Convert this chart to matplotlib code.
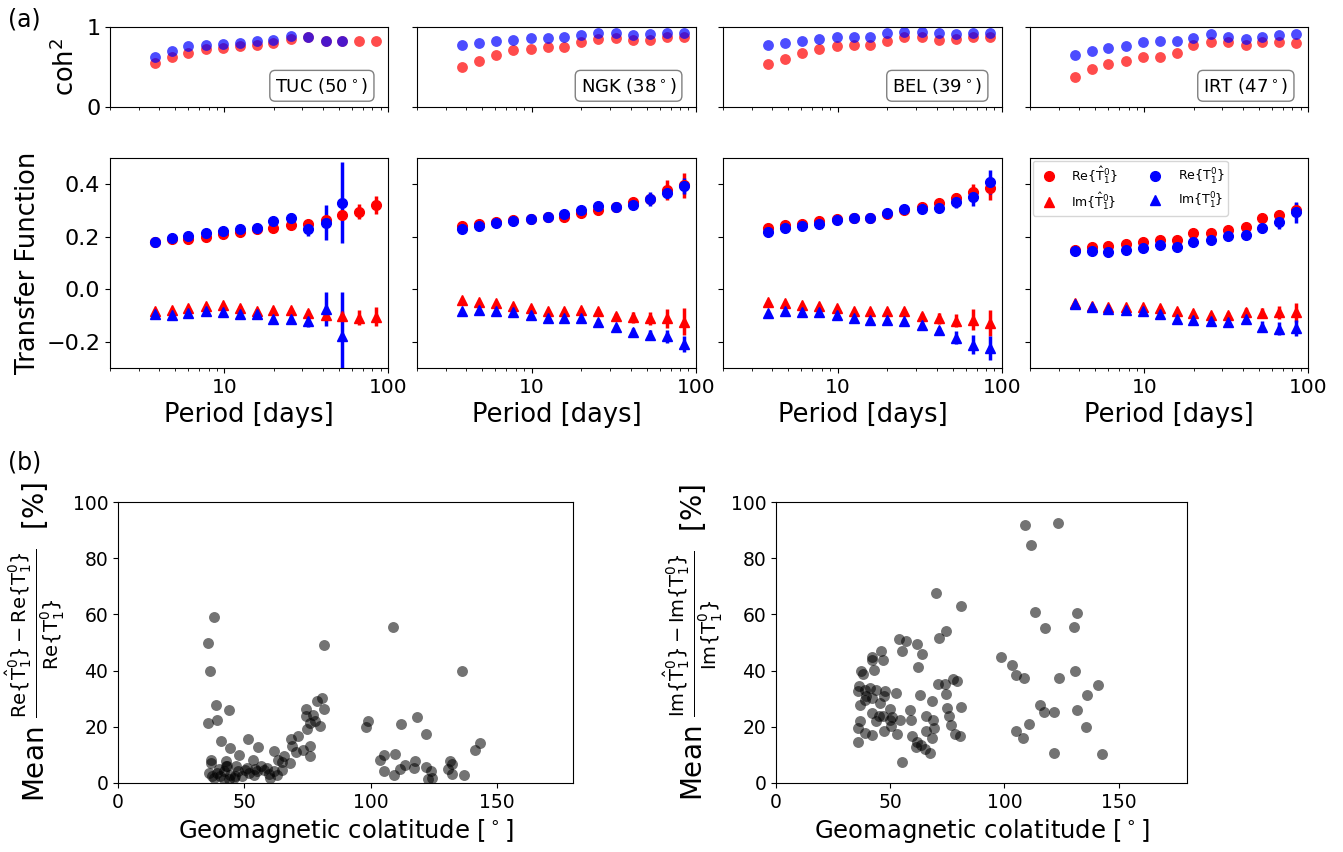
import matplotlib
matplotlib.use('Agg')
import matplotlib.pyplot as plt
import numpy as np

# periods [days] of the 15 frequency bins
periods = [3.78, 4.78, 6.03, 7.73, 9.86, 12.5, 15.8, 19.9, 25.4, 32.5, 41.5, 52.7, 66.5, 84.1, 106.7]

stations = ['TUC', 'NGK', 'BEL', 'IRT']
colats = [50, 38, 39, 47]

# ---- TUC
tuc_coh_hat = [0.55, 0.62, 0.68, 0.72, 0.74, 0.76, 0.78, 0.80, 0.85, 0.88, 0.82, 0.82, 0.82, 0.82, 0.82]
tuc_coh = [0.63, 0.70, 0.76, 0.78, 0.79, 0.80, 0.82, 0.84, 0.89, 0.88, 0.82, 0.82]
tuc_re_hat = [0.181, 0.19, 0.192, 0.20, 0.209, 0.219, 0.23, 0.232, 0.243, 0.247, 0.262, 0.281, 0.296, 0.321, 0.33]
tuc_re_hat_err = [0.004, 0.004, 0.005, 0.005, 0.005, 0.006, 0.006, 0.007, 0.008, 0.01, 0.012, 0.015, 0.028, 0.035, 0.04]
tuc_im_hat = [-0.082, -0.078, -0.073, -0.063, -0.061, -0.07, -0.082, -0.078, -0.078, -0.089, -0.099, -0.101, -0.108, -0.105, -0.105]
tuc_im_hat_err = [0.004, 0.004, 0.005, 0.005, 0.005, 0.006, 0.006, 0.007, 0.008, 0.01, 0.012, 0.02, 0.028, 0.036, 0.04]
tuc_re = [0.181, 0.194, 0.204, 0.213, 0.222, 0.229, 0.235, 0.261, 0.27, 0.23, 0.254, 0.330]
tuc_re_err = [0.004, 0.004, 0.005, 0.005, 0.006, 0.007, 0.008, 0.012, 0.02, 0.027, 0.066, 0.153]
tuc_im = [-0.095, -0.099, -0.091, -0.082, -0.086, -0.095, -0.095, -0.114, -0.114, -0.120, -0.076, -0.177]
tuc_im_err = [0.004, 0.004, 0.005, 0.005, 0.006, 0.007, 0.008, 0.012, 0.015, 0.025, 0.065, 0.165]

# ---- NGK
ngk_coh_hat = [0.50, 0.58, 0.65, 0.71, 0.73, 0.75, 0.75, 0.81, 0.85, 0.86, 0.84, 0.84, 0.88, 0.88, 0.875]
ngk_coh = [0.78, 0.80, 0.82, 0.84, 0.86, 0.86, 0.87, 0.90, 0.93, 0.93, 0.90, 0.91, 0.92, 0.93]
ngk_re_hat = [0.242, 0.25, 0.255, 0.263, 0.269, 0.275, 0.274, 0.291, 0.302, 0.312, 0.331, 0.343, 0.377, 0.396, 0.40]
ngk_re_hat_err = [0.003, 0.003, 0.004, 0.004, 0.005, 0.005, 0.006, 0.007, 0.008, 0.01, 0.012, 0.018, 0.038, 0.048, 0.05]
ngk_im_hat = [-0.040, -0.048, -0.054, -0.063, -0.072, -0.084, -0.082, -0.079, -0.082, -0.101, -0.107, -0.111, -0.111, -0.123, -0.125]
ngk_im_hat_err = [0.003, 0.003, 0.004, 0.004, 0.005, 0.005, 0.006, 0.007, 0.008, 0.01, 0.02, 0.025, 0.035, 0.05, 0.05]
ngk_re = [0.229, 0.242, 0.253, 0.259, 0.268, 0.277, 0.286, 0.301, 0.317, 0.312, 0.322, 0.345, 0.366, 0.392]
ngk_re_err = [0.003, 0.003, 0.004, 0.004, 0.005, 0.005, 0.006, 0.007, 0.008, 0.01, 0.012, 0.026, 0.02, 0.03]
ngk_im = [-0.084, -0.079, -0.084, -0.087, -0.097, -0.111, -0.111, -0.111, -0.123, -0.145, -0.161, -0.174, -0.179, -0.208]
ngk_im_err = [0.003, 0.003, 0.004, 0.004, 0.005, 0.005, 0.006, 0.007, 0.008, 0.01, 0.015, 0.02, 0.025, 0.03]

# ---- BEL
bel_coh_hat = [0.54, 0.60, 0.67, 0.73, 0.76, 0.77, 0.77, 0.83, 0.87, 0.875, 0.84, 0.85, 0.88, 0.875, 0.87]
bel_coh = [0.78, 0.80, 0.82, 0.85, 0.87, 0.875, 0.875, 0.92, 0.94, 0.94, 0.92, 0.91, 0.92, 0.93]
bel_re_hat = [0.235, 0.243, 0.25, 0.26, 0.268, 0.272, 0.272, 0.288, 0.301, 0.312, 0.33, 0.346, 0.371, 0.384, 0.39]
bel_re_hat_err = [0.003, 0.003, 0.004, 0.004, 0.005, 0.005, 0.006, 0.007, 0.008, 0.01, 0.012, 0.02, 0.03, 0.045, 0.05]
bel_im_hat = [-0.05, -0.053, -0.059, -0.065, -0.072, -0.084, -0.084, -0.082, -0.084, -0.101, -0.111, -0.120, -0.116, -0.128, -0.13]
bel_im_hat_err = [0.003, 0.003, 0.004, 0.004, 0.005, 0.005, 0.006, 0.007, 0.008, 0.01, 0.02, 0.025, 0.04, 0.05, 0.05]
bel_re = [0.219, 0.233, 0.242, 0.249, 0.264, 0.27, 0.27, 0.291, 0.306, 0.306, 0.308, 0.331, 0.351, 0.409]
bel_re_err = [0.003, 0.003, 0.004, 0.004, 0.005, 0.005, 0.006, 0.007, 0.008, 0.015, 0.015, 0.02, 0.035, 0.045]
bel_im = [-0.091, -0.084, -0.086, -0.086, -0.098, -0.111, -0.117, -0.117, -0.120, -0.136, -0.157, -0.185, -0.211, -0.224]
bel_im_err = [0.003, 0.003, 0.004, 0.004, 0.005, 0.005, 0.006, 0.007, 0.008, 0.01, 0.015, 0.025, 0.035, 0.045]

# ---- IRT
irt_coh_hat = [0.38, 0.48, 0.54, 0.58, 0.62, 0.62, 0.67, 0.78, 0.81, 0.81, 0.77, 0.81, 0.81, 0.80, 0.80]
irt_coh = [0.65, 0.70, 0.74, 0.76, 0.81, 0.82, 0.82, 0.86, 0.91, 0.88, 0.85, 0.875, 0.90, 0.91]
irt_re_hat = [0.151, 0.16, 0.164, 0.172, 0.179, 0.186, 0.189, 0.214, 0.216, 0.226, 0.239, 0.273, 0.283, 0.302, 0.31]
irt_re_hat_err = [0.003, 0.003, 0.004, 0.004, 0.005, 0.005, 0.006, 0.007, 0.008, 0.01, 0.012, 0.015, 0.02, 0.025, 0.03]
irt_im_hat = [-0.054, -0.063, -0.069, -0.067, -0.069, -0.072, -0.082, -0.092, -0.098, -0.098, -0.088, -0.091, -0.088, -0.088, -0.09]
irt_im_hat_err = [0.003, 0.003, 0.004, 0.004, 0.005, 0.005, 0.006, 0.007, 0.008, 0.01, 0.015, 0.02, 0.025, 0.035, 0.04]
irt_re = [0.145, 0.147, 0.142, 0.151, 0.157, 0.167, 0.161, 0.180, 0.189, 0.201, 0.208, 0.233, 0.255, 0.293]
irt_re_err = [0.003, 0.003, 0.004, 0.004, 0.005, 0.005, 0.006, 0.007, 0.008, 0.01, 0.015, 0.02, 0.025, 0.04]
irt_im = [-0.057, -0.069, -0.075, -0.078, -0.081, -0.094, -0.113, -0.116, -0.120, -0.123, -0.113, -0.142, -0.151, -0.148]
irt_im_err = [0.003, 0.003, 0.004, 0.004, 0.005, 0.005, 0.006, 0.007, 0.008, 0.01, 0.015, 0.02, 0.025, 0.03]

# ---- (b) mean relative differences per observatory
re_colat = [35.6, 37.9, 36.3, 38.7, 35.8, 39.2, 43.9, 40.9, 44.5, 47.9, 51.5, 55.5, 36.8, 36.8, 42.6,
            42.6, 46.6, 53.3, 56.7, 61.9, 63.2, 65.8, 64.9, 68.5, 71.4, 68.9, 70.6, 68.2, 74.5, 74.5,
            77.2, 74.8, 75.8, 78.1, 75.8, 75.8, 78.8, 80.9, 81.4, 81.4, 79.8, 73.2,
            35.9, 37.2, 39.2, 40.5, 42.1, 44.5, 45.8, 47.5, 49.1, 50.4, 51.7, 53.7, 55.0, 57.7,
            59.6, 60.0, 61.6, 62.9, 64.9, 51.1, 39.8, 46.4, 43.8, 37.9, 43.0, 59.0, 54.0, 42.1,
            98.2, 99.0, 108.7, 103.8, 105.4, 105.1, 109.1, 109.4, 112.1, 111.5, 113.7, 117.4, 117.0,
            118.1, 121.8, 121.8, 123.9, 122.6, 124.4, 131.3, 132.2, 130.6, 132.3, 136.1, 136.8,
            141.2, 143.1]
re_diff = [49.7, 59.2, 40.0, 27.6, 21.5, 22.4, 26.1, 14.8, 12.5, 9.8, 15.8, 12.8, 8.1, 7.1, 7.7,
           5.9, 5.9, 8.3, 5.9, 11.3, 8.1, 9.5, 7.4, 15.7, 16.6, 13.3, 10.9, 7.1, 26.3, 23.7,
           24.3, 19.2, 21.4, 21.9, 13.3, 9.7, 29.1, 30.2, 49.2, 26.5, 20.2, 11.9,
           3.6, 2.4, 3.6, 2.4, 4.2, 3.0, 1.8, 4.2, 2.4, 4.7, 3.6, 3.0, 4.2, 4.7,
           3.3, 1.8, 4.2, 3.0, 4.7, 5.3, 5.0, 2.4, 1.4, 1.8, 5.9, 5.3, 5.0, 1.4,
           19.8, 21.9, 55.4, 8.3, 9.8, 4.2, 2.7, 10.3, 21.0, 5.0, 6.5, 7.7, 5.3,
           23.4, 17.4, 5.6, 4.2, 1.4, 1.8, 7.9, 6.8, 5.0, 3.2, 39.7, 2.7,
           11.6, 14.2]

im_colat = [109.1, 123.4, 111.7, 70.2, 81.1, 113.4, 131.8, 117.8, 130.6, 74.6, 71.6, 53.7, 56.8,
            61.9, 55.3, 46.2, 63.9, 42.2, 46.9, 42.2, 98.6, 103.4, 62.2, 42.9, 37.4, 38.2, 104.9,
            108.8, 123.8, 131.1, 77.5, 79.4, 70.9, 74.1, 141.1, 36.3, 35.9, 38.9, 41.1, 44.0,
            47.6, 52.4, 63.2, 74.6, 136.4, 39.6, 38.9, 42.2, 47.2, 36.7, 45.4, 68.3, 115.8,
            50.1, 58.8, 75.0, 81.1, 117.3, 121.9, 131.8, 42.2, 45.2, 46.9, 51.0, 54.2, 65.5,
            75.7, 36.7, 43.7, 49.8, 59.3, 68.7, 76.8, 35.7, 50.5, 69.0, 104.9, 111.0, 135.7,
            38.9, 42.2, 47.3, 53.0, 59.6, 65.5, 78.6, 80.8, 68.5, 108.3, 35.7, 61.9, 63.6,
            61.5, 65.4, 67.6, 55.3, 121.6, 142.7]
im_diff = [91.7, 92.5, 84.7, 67.6, 62.9, 60.9, 60.5, 55.2, 55.5, 54.1, 51.6, 51.2, 50.7,
           49.5, 47.1, 46.9, 45.9, 44.7, 43.9, 43.7, 44.7, 42.1, 41.2, 40.3, 40.0, 38.8, 38.3,
           37.4, 37.4, 39.7, 37.1, 36.4, 35.2, 35.2, 34.8, 34.6, 32.6, 33.2, 33.8, 33.2,
           32.6, 32.0, 31.4, 31.7, 31.4, 30.8, 29.7, 30.2, 30.8, 27.9, 28.5, 29.1, 27.9,
           26.3, 26.1, 26.7, 26.9, 25.3, 25.3, 25.9, 24.9, 23.7, 24.0, 23.5, 22.5, 23.7,
           23.7, 21.9, 21.9, 22.3, 22.3, 22.3, 20.8, 19.6, 20.2, 19.6, 18.4, 21.1, 19.8,
           17.8, 17.2, 18.4, 17.6, 16.6, 18.6, 17.4, 16.8, 16.0, 16.0, 14.5, 14.5, 13.6,
           12.8, 12.1, 10.7, 7.5, 10.7, 10.3]

coh_hat_all = [tuc_coh_hat, ngk_coh_hat, bel_coh_hat, irt_coh_hat]
coh_all = [tuc_coh, ngk_coh, bel_coh, irt_coh]
re_hat_all = [(tuc_re_hat, tuc_re_hat_err), (ngk_re_hat, ngk_re_hat_err), (bel_re_hat, bel_re_hat_err), (irt_re_hat, irt_re_hat_err)]
im_hat_all = [(tuc_im_hat, tuc_im_hat_err), (ngk_im_hat, ngk_im_hat_err), (bel_im_hat, bel_im_hat_err), (irt_im_hat, irt_im_hat_err)]
re_all = [(tuc_re, tuc_re_err), (ngk_re, ngk_re_err), (bel_re, bel_re_err), (irt_re, irt_re_err)]
im_all = [(tuc_im, tuc_im_err), (ngk_im, ngk_im_err), (bel_im, bel_im_err), (irt_im, irt_im_err)]

W, H = 1343, 852
fig = plt.figure(figsize=(W / 100, H / 100), dpi=100)


def px_axes(l, t, r, b):
    return fig.add_axes([l / W, 1 - b / H, (r - l) / W, (b - t) / H])


cols = [(110, 388), (417, 696), (723, 1002), (1030, 1308)]
T = np.array(periods)

for i in range(4):
    l, r = cols[i]
    # coherence
    ax = px_axes(l, 27, r, 107)
    ch = coh_hat_all[i]
    c = coh_all[i]
    ax.plot(T[:len(ch)], ch, 'o', color='r', alpha=0.7, ms=7.8, mew=0)
    ax.plot(T[:len(c)], c, 'o', color='b', alpha=0.7, ms=7.8, mew=0)
    ax.set_xscale('log')
    ax.set_xlim(2, 100)
    ax.set_ylim(0, 1)
    ax.set_yticks([0, 1])
    ax.set_xticks([10, 100])
    ax.set_xticklabels([])
    ax.tick_params(axis='x', which='minor', labelbottom=False)
    ax.tick_params(labelsize=16)
    if i == 0:
        ax.set_ylabel('coh$^2$', fontsize=18.5)
    else:
        ax.set_yticklabels([])
    ax.text(0.93, 0.14, '%s (%d$^\\circ$)' % (stations[i], colats[i]), transform=ax.transAxes,
            ha='right', va='bottom', fontsize=13,
            bbox=dict(boxstyle='round', facecolor='white', edgecolor='gray'))

    # transfer functions
    ax = px_axes(l, 158, r, 368)
    y, e = re_hat_all[i]
    h1 = ax.errorbar(T[:len(y)], y, yerr=e, fmt='o', color='r', ms=7, elinewidth=2.5)
    y, e = im_hat_all[i]
    h2 = ax.errorbar(T[:len(y)], y, yerr=e, fmt='^', color='r', ms=7, elinewidth=2.5)
    y, e = re_all[i]
    h3 = ax.errorbar(T[:len(y)], y, yerr=e, fmt='o', color='b', ms=7, elinewidth=2.5)
    y, e = im_all[i]
    h4 = ax.errorbar(T[:len(y)], y, yerr=e, fmt='^', color='b', ms=7, elinewidth=2.5)
    ax.set_xscale('log')
    ax.set_xlim(2, 100)
    ax.set_ylim(-0.3, 0.5)
    ax.set_yticks([-0.2, 0.0, 0.2, 0.4])
    ax.set_xticks([10, 100])
    ax.set_xticklabels(['10', '100'])
    ax.tick_params(axis='y', labelsize=16)
    ax.tick_params(axis='x', labelsize=14.5)
    ax.set_xlabel('Period [days]', fontsize=18.5)
    if i == 0:
        ax.set_ylabel('Transfer Function', fontsize=18.5)
    else:
        ax.set_yticklabels([])
    if i == 3:
        ax.legend([h1[0], h2[0], h3[0], h4[0]],
                  [r'Re$\{\hat{\mathrm{T}}_1^0\}$', r'Im$\{\hat{\mathrm{T}}_1^0\}$',
                   r'Re$\{\mathrm{T}_1^0\}$', r'Im$\{\mathrm{T}_1^0\}$'],
                  loc='upper left', ncol=2, fontsize=9, numpoints=1,
                  borderaxespad=0.2, borderpad=0.3, labelspacing=0.35,
                  handletextpad=0.8, columnspacing=2.0)

# (b)
ylab_re = (r'Mean $\frac{\mathrm{Re}\{\hat{\mathrm{T}}_1^0\} - \mathrm{Re}\{\mathrm{T}_1^0\}}'
           r'{\mathrm{Re}\{\mathrm{T}_1^0\}}$  [%]')
ylab_im = (r'Mean $\frac{\mathrm{Im}\{\hat{\mathrm{T}}_1^0\} - \mathrm{Im}\{\mathrm{T}_1^0\}}'
           r'{\mathrm{Im}\{\mathrm{T}_1^0\}}$  [%]')

for (l, r), xs, ys, lab in [((118, 573), re_colat, re_diff, ylab_re),
                            ((776, 1187), im_colat, im_diff, ylab_im)]:
    ax = px_axes(l, 502, r, 783)
    ax.scatter(xs, ys, s=62, color='k', alpha=0.55, linewidths=0)
    ax.set_xlim(0, 180)
    ax.set_ylim(0, 100)
    ax.set_xticks([0, 50, 100, 150])
    ax.set_yticks([0, 20, 40, 60, 80, 100])
    ax.tick_params(labelsize=13.5)
    ax.set_xlabel(r'Geomagnetic colatitude [$^\circ$]', fontsize=17.5)
    ax.set_ylabel(lab, fontsize=20)

fig.text(8 / W, 1 - 20 / H, '(a)', fontsize=17, va='center', ha='left')
fig.text(8 / W, 1 - 462 / H, '(b)', fontsize=17, va='center', ha='left')

fig.savefig('out.png', dpi=100)
